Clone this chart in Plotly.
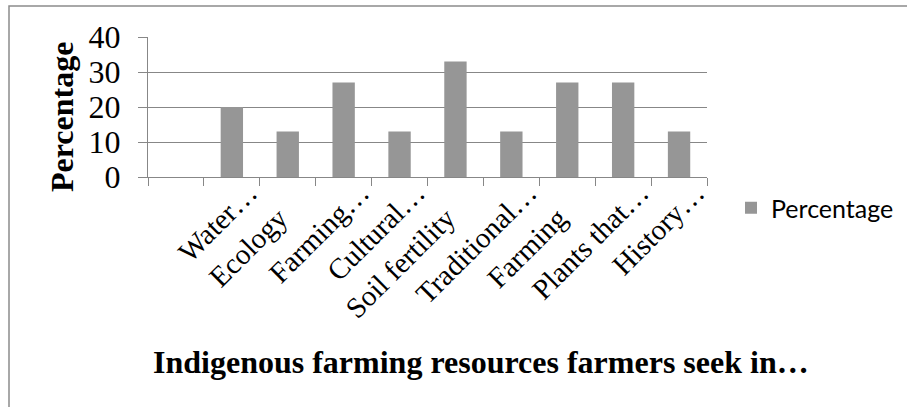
import plotly.graph_objects as go

# Indigenous farming resources sought by farmers (percent of respondents)
NB = "\u00a0" * 5  # trailing pad so full-length labels sit like the truncated ones
categories = [" ", "Water…", "Ecology" + NB, "Farming…", "Cultural…", "Soil fertility" + NB,
              "Traditional…", "Farming" + NB, "Plants that…", "History…"]
percentage = [None, 20, 13, 27, 13, 33, 13, 27, 27, 13]
y_ticks = [0, 10, 20, 30, 40]

W, H = 907, 407
L, R, T, B = 148, 200, 37, 230
pw, ph = W - L - R, H - T - B


def px_x(x):
    return (x - L) / pw


def px_y(y):
    return (H - B - y) / ph


GRID = "#878787"
SERIF = "Liberation Serif"

fig = go.Figure(
    go.Bar(
        x=categories,
        y=percentage,
        name="Percentage",
        marker=dict(color="#969696", line=dict(width=0)),
        showlegend=True,
    )
)

fig.update_layout(
    width=W,
    height=H,
    margin=dict(l=L, r=R, t=T, b=B, autoexpand=False),
    paper_bgcolor="white",
    plot_bgcolor="white",
    bargap=0.6,
    font=dict(family=SERIF, color="black"),
    legend=dict(
        xref="container", yref="container",
        x=731 / W, y=(H - 208) / H, xanchor="left", yanchor="middle",
        font=dict(family="Lato", size=25, color="black"),
        bgcolor="rgba(0,0,0,0)", itemwidth=30,
    ),
    xaxis=dict(
        type="category",
        categoryorder="array",
        categoryarray=categories,
        tickson="boundaries",
        ticks="outside",
        ticklen=8,
        tickcolor=GRID,
        tickwidth=1.3,
        showline=True,
        linecolor=GRID,
        linewidth=1.3,
        showgrid=False,
        tickangle=-45,
        tickfont=dict(family=SERIF, size=29, color="black"),
        ticklabelshift=17,
        ticklabelstandoff=-14,
    ),
    yaxis=dict(
        range=[0, 40],
        tickvals=y_ticks,
        ticks="outside",
        ticklen=9,
        tickcolor=GRID,
        tickwidth=1.3,
        showline=True,
        linecolor=GRID,
        linewidth=1.3,
        showgrid=True,
        gridcolor=GRID,
        gridwidth=1.3,
        zeroline=False,
        tickfont=dict(family=SERIF, size=32, color="black"),
        ticklabelstandoff=11,
    ),
    annotations=[
        dict(
            text="<b>Percentage</b>", textangle=-90,
            xref="paper", yref="paper", x=px_x(62), y=px_y(117),
            xanchor="center", yanchor="middle", showarrow=False,
            font=dict(family=SERIF, size=32, color="black"),
        ),
        dict(
            text="<b>Indigenous farming resources farmers seek in…</b>",
            xref="paper", yref="paper", x=px_x(481), y=px_y(362),
            xanchor="center", yanchor="middle", showarrow=False,
            font=dict(family=SERIF, size=32, color="black"),
        ),
    ],
    shapes=[
        dict(
            type="rect", xref="paper", yref="paper",
            x0=px_x(9), y0=px_y(6), x1=px_x(W + 50), y1=px_y(H + 50),
            line=dict(color="#8c8c8c", width=1.5), fillcolor="rgba(0,0,0,0)",
            layer="below",
        )
    ],
)

fig.write_html("out.html")
